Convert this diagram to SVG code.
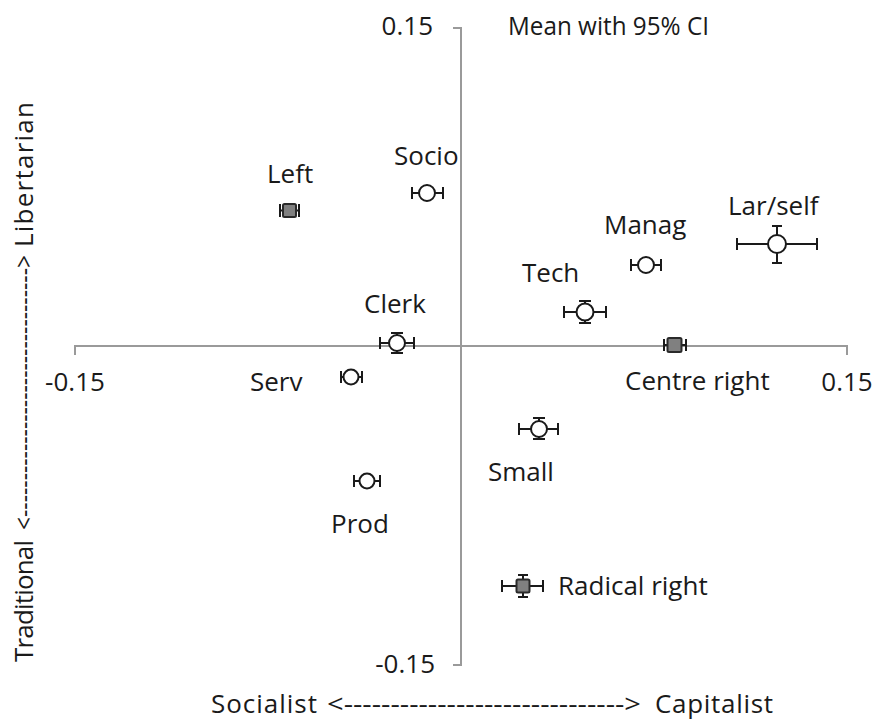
<svg xmlns="http://www.w3.org/2000/svg" width="873" height="721" viewBox="0 0 873 721">
<style>
text{font-family:"Open Sans","Liberation Sans",sans-serif;font-size:26px;fill:#1a1a1a}
.ax{stroke:#9a9a9a;stroke-width:2;fill:none}
.eb{stroke:#1a1a1a;stroke-width:2;fill:none}
.c{fill:#fff;stroke:#1a1a1a;stroke-width:2}
.s{fill:#808080;stroke:#2a2a2a;stroke-width:2}
</style>
<rect width="873" height="721" fill="#fff"/>
<g id="axes">
<path class="ax" d="M453,28H461V665H453"/>
<path class="ax" d="M75,355V346H847V355"/>
<text x="433" y="35" text-anchor="end">0.15</text>
<text x="435" y="673" text-anchor="end">-0.15</text>
<text x="75" y="391" text-anchor="middle">-0.15</text>
<text x="847" y="391" text-anchor="middle">0.15</text>
<text x="508" y="35" textLength="201" lengthAdjust="spacingAndGlyphs">Mean with 95% CI</text>
<text y="713"><tspan x="211" textLength="106">Socialist</tspan><tspan x="327" textLength="314" lengthAdjust="spacingAndGlyphs">&lt;------------------------------&gt;</tspan><tspan x="655" textLength="118">Capitalist</tspan></text>
<text transform="translate(33,0) rotate(-90)"><tspan x="-662" textLength="122">Traditional</tspan><tspan x="-530" textLength="275" lengthAdjust="spacingAndGlyphs">&lt;----------------------------------&gt;</tspan><tspan x="-247" textLength="145">Libertarian</tspan></text>
</g>
<g id="connectors"></g>
<g id="left">
<path class="eb" d="M280,204V217M299,204V217M280,210.5H299"/>
<rect class="s" x="283" y="204" width="13" height="13" rx="1.5"/>
<text x="267" y="183">Left</text>
</g>
<g id="socio">
<path class="eb" d="M412,193H443M412,187V199M443,187V199"/>
<circle class="c" cx="427" cy="193" r="8"/>
<text x="394" y="165">Socio</text>
</g>
<g id="manag">
<path class="eb" d="M631,265H661M631,259V271M661,259V271"/>
<circle class="c" cx="646" cy="265" r="8"/>
<text x="604" y="234">Manag</text>
</g>
<g id="larself">
<path class="eb" d="M737,244H817M737,238V250M817,238V250M777,226V263M772,226H782M772,263H782"/>
<circle class="c" cx="777" cy="244" r="9"/>
<text x="728" y="215">Lar/self</text>
</g>
<g id="tech">
<path class="eb" d="M564,312H606M564,306V318M606,306V318M585,301V323M579,301H591M579,323H591"/>
<circle class="c" cx="585" cy="312" r="8.5"/>
<text x="522" y="282">Tech</text>
</g>
<g id="centreright">
<path class="eb" d="M664,345H686M664,339V351M686,339V351"/>
<rect class="s" x="667.5" y="338" width="14" height="14" rx="1.5"/>
<text x="625" y="390">Centre right</text>
</g>
<g id="clerk">
<path class="eb" d="M380,343H414M380,337V349M414,337V349M397,333V353M391,333H403M391,353H403"/>
<circle class="c" cx="397" cy="343" r="8"/>
<text x="364" y="313">Clerk</text>
</g>
<g id="serv">
<path class="eb" d="M341,377H362M341,371V383M362,371V383"/>
<circle class="c" cx="351" cy="377" r="7.5"/>
<text x="250" y="391">Serv</text>
</g>
<g id="small">
<path class="eb" d="M519,429H558M519,423V435M558,423V435M539,418V439M533,418H545M533,439H545"/>
<circle class="c" cx="539" cy="429" r="8"/>
<text x="488" y="481">Small</text>
</g>
<g id="prod">
<path class="eb" d="M354,481H380M354,475V487M380,475V487"/>
<circle class="c" cx="367" cy="481" r="7.5"/>
<text x="331" y="533">Prod</text>
</g>
<g id="radicalright">
<path class="eb" d="M502,586H543M502,580V592M543,580V592M523,575V597M518,575H528M518,597H528"/>
<rect class="s" x="516.5" y="579.5" width="13" height="13" rx="1.5"/>
<text x="558" y="595">Radical right</text>
</g>
</svg>
